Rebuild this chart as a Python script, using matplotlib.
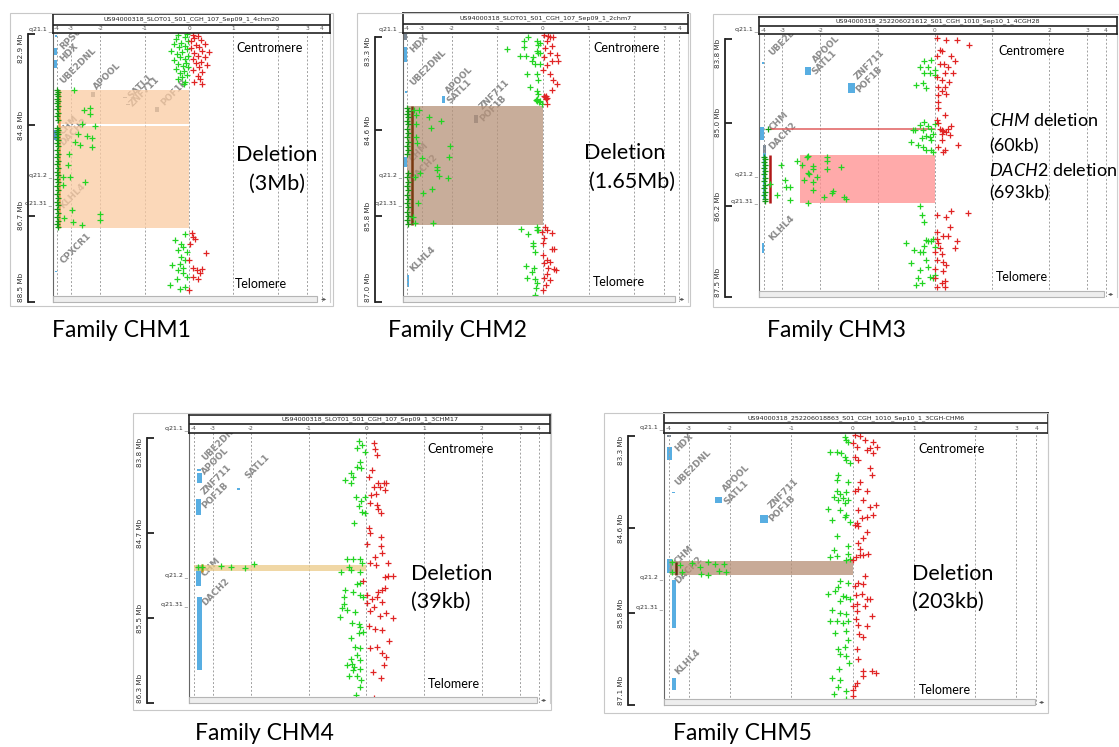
import numpy as np
import matplotlib.pyplot as plt
from matplotlib.patches import Rectangle

plt.rcParams['mathtext.fontset'] = 'custom'
plt.rcParams['mathtext.rm'] = 'Lato'
plt.rcParams['mathtext.it'] = 'Lato:italic'

# ---------------- data: (position Mb, log ratio) ----------------
p1_ticks = [82.9, 84.8, 86.7, 88.5]
p1_green = [(82.9,-0.05),(82.93,-0.25),(82.97,-0.1),(83.0,-0.3),(83.05,-0.02),(83.08,-0.18),(83.1,-0.35),
            (83.15,-0.08),(83.18,-0.22),(83.22,-0.05),(83.25,-0.4),(83.28,-0.15),(83.32,-0.28),(83.35,-0.03),
            (83.38,-0.2),(83.42,-0.1),(83.45,-0.33),(83.5,-0.06),(83.52,-0.24),(83.56,-0.14),(83.6,-0.02),
            (83.63,-0.3),(83.68,-0.12),(83.72,-0.2),(83.76,-0.05),(83.8,-0.16),(83.85,-0.25),(83.9,-0.08),
            (83.95,-0.12),
            (84.08,-2.89),(84.49,-2.56),(84.45,-2.36),(84.57,-2.36),(84.82,-2.17),(84.78,-2.62),(84.99,-2.75),
            (85.03,-2.45),(85.08,-2.3),(85.26,-2.27),(85.15,-2.88),(85.22,-2.69),(85.41,-3.18),(85.64,-3.24),
            (85.88,-3.09),(85.99,-2.53),(85.88,-3.59),(86.06,-3.53),(86.75,-3.47),(86.82,-2.95),(86.89,-2.62),
            (86.66,-2.03),(86.79,-2.0),(86.58,-2.98),
            (87.21,-0.32),(87.08,-0.09),(87.28,-0.17),(87.35,-0.13),(87.42,-0.24),(87.45,-0.05),(87.56,-0.17),
            (87.63,-0.09),(87.73,-0.39),(87.7,-0.2),(87.83,-0.24),(87.9,-0.13),(87.97,-0.05),(88.15,-0.43),
            (88.22,-0.2),(88.18,-0.09),(88.01,-0.28),(87.78,-0.14)]
p1_col = [(84.08,-3.95),(84.12,-3.9),(84.16,-3.97),(84.2,-3.92),(84.25,-3.95),(84.3,-3.9),(84.34,-3.97),
          (84.4,-3.93),(84.47,-3.96),(84.55,-3.9),(84.62,-3.95),(84.7,-3.92),(84.86,-3.96),(84.9,-3.9),
          (84.95,-3.95),(85.0,-3.92),(85.06,-3.97),(85.12,-3.9),(85.18,-3.95),(85.25,-3.92),(85.32,-3.96),
          (85.4,-3.9),(85.47,-3.95),(85.55,-3.93),(85.62,-3.97),(85.7,-3.9),(85.78,-3.95),(85.85,-3.92),
          (85.93,-3.96),(86.0,-3.9),(86.08,-3.95),(86.16,-3.92),(86.24,-3.97),(86.32,-3.9),(86.4,-3.95),
          (86.48,-3.92),(86.56,-3.96),(86.64,-3.9),(86.72,-3.95),(86.8,-3.92),(86.88,-3.96),(86.93,-3.9)]
p1_red = [(82.92,0.08),(82.95,0.2),(82.98,0.12),(83.02,0.28),(83.05,0.05),(83.1,0.35),(83.13,0.15),
          (83.18,0.22),(83.2,0.05),(83.25,0.3),(83.28,0.45),(83.3,0.12),(83.35,0.2),(83.38,0.35),(83.42,0.08),
          (83.48,0.28),(83.5,0.15),(83.55,0.4),(83.6,0.22),(83.65,0.1),(83.7,0.3),(83.78,0.2),(83.85,0.25),
          (83.9,0.12),(83.95,0.3),
          (87.05,0.06),(87.14,0.1),(87.19,0.14),(87.28,0.02),(87.47,0.39),(87.8,0.1),(87.83,0.17),(87.82,0.29),
          (87.97,0.1),(88.01,0.21),(88.24,0.01),(87.63,0.01),(87.9,0.25)]

p2_ticks = [83.3, 84.6, 85.8, 87.0]
p2_green = [(83.3,-0.32),(83.35,-0.41),(83.35,-0.13),(83.41,-0.1),(83.44,-0.41),(83.47,-0.78),(83.57,-0.51),
            (83.57,-0.37),(83.58,-0.21),(83.5,-0.13),(83.52,-0.1),(83.53,-0.06),(83.67,-0.17),(83.64,-0.24),
            (83.67,-0.07),(83.81,-0.35),(83.81,-0.13),(83.9,-0.1),(84.0,-0.29),(84.06,-0.13),(84.09,-0.1),
            (84.16,-0.12),(84.19,-0.06),(84.2,-0.13),(84.23,-0.02),(83.39,-0.07),(84.18,-0.15),(84.21,-0.09),
            (84.32,-3.52),(84.32,-3.15),(84.39,-3.36),(84.42,-2.74),(84.47,-2.36),(84.51,-3.36),(84.57,-2.7),
            (84.69,-3.36),(84.78,-3.3),(84.82,-2.06),(84.98,-2.08),(84.99,-3.0),(85.11,-2.5),(85.16,-2.48),
            (85.2,-3.12),(85.24,-2.44),(85.27,-2.11),(85.25,-3.45),(85.48,-2.97),(85.42,-2.64),(85.62,-3.21),
            (85.81,-3.55),(85.89,-3.45),(85.89,-2.61),
            (85.98,-0.48),(85.95,-0.12),(86.05,-0.32),(86.17,-0.21),(86.22,-0.22),(86.3,-0.17),(85.99,-0.13),
            (86.0,-0.1),(86.5,-0.37),(86.66,-0.35),(86.68,-0.17),(86.74,-0.13),(86.81,-0.15),(86.9,-0.17),
            (86.52,-0.19),(86.58,-0.24)]
p2_col = [(84.29,-3.95),(84.33,-3.9),(84.37,-3.97),(84.42,-3.92),(84.47,-3.95),(84.52,-3.9),(84.58,-3.96),
          (84.64,-3.92),(84.7,-3.95),(84.76,-3.9),(84.82,-3.96),(84.88,-3.92),(84.94,-3.95),(85.2,-3.9),
          (85.26,-3.96),(85.32,-3.92),(85.38,-3.95),(85.44,-3.9),(85.5,-3.96),(85.56,-3.92),(85.62,-3.95),
          (85.68,-3.9),(85.74,-3.96),(85.8,-3.92),(85.86,-3.95),(85.91,-3.9)]
p2_red = [(83.27,0.03),(83.29,0.12),(83.3,0.23),(83.36,0.09),(83.43,0.2),(83.46,0.05),(83.53,0.16),(83.55,0.31),
          (83.58,0.03),(83.64,0.2),(83.64,0.34),(83.69,0.09),(83.76,0.01),(83.81,0.15),(83.9,0.23),(83.95,0.31),
          (84.04,0.2),(84.13,0.03),(84.16,0.07),(84.23,0.09),(83.3,0.16),(84.14,0.05),(84.15,0.08),(84.12,0.06),
          (85.95,0.05),(85.99,0.09),(86.02,-0.02),(86.04,0.2),(86.11,0.03),(86.26,0.2),(86.26,0.25),(86.34,0.01),
          (86.41,0.09),(86.46,0.03),(86.44,0.16),(86.54,0.25),(86.56,0.29),(86.61,0.09),(86.66,0.03),(86.69,0.16),
          (86.76,0.07),(86.83,0.01),(86.52,0.12),(86.18,0.0)]

p3_ticks = [83.8, 85.0, 86.2, 87.5]
p3_green = [(84.12,-0.18),(84.2,-0.26),(84.2,-0.12),(84.1,-0.06),(84.29,-0.18),(84.29,-0.09),(84.46,-0.32),
            (84.43,-0.2),(84.5,-0.15),(84.24,0.0),(84.31,0.0),(85.1,-0.38),(85.03,-0.26),(84.98,-0.18),
            (85.05,-0.12),(85.08,-0.06),(85.1,-0.34),(85.15,-0.03),(85.2,-0.09),(85.19,-0.16),(85.27,-0.41),
            (85.31,-0.29),(85.35,-0.2),(85.39,-0.15),(85.39,-0.07),(85.41,-0.03),(85.24,-0.06),(85.22,-0.23),
            (85.01,0.0),(85.1,-0.2),
            (85.87,-3.67),(86.03,-3.3),(85.6,-3.09),(85.81,-2.94),(85.91,-2.91),(85.91,-2.8),(86.1,-2.8),
            (85.54,-2.62),(85.6,-2.47),(85.81,-2.44),(85.47,-2.33),(85.48,-2.35),(85.61,-2.2),(85.65,-2.18),
            (85.72,-2.32),(85.73,-2.29),(85.77,-2.08),(85.85,-2.2),(85.96,-2.2),(85.49,-1.88),(85.55,-1.88),
            (85.65,-1.88),(85.63,-1.63),(86.05,-1.94),(85.97,-1.78),(86.0,-1.8),(86.05,-1.58),(86.09,-1.55),
            (86.14,-2.32),
            (86.19,-0.25),(86.31,-0.23),(86.41,-0.19),(86.65,-0.03),(86.69,-0.06),(86.68,-0.12),(86.71,-0.5),
            (86.82,-0.36),(86.84,-0.2),(86.85,-0.25),(86.76,-0.18),(86.77,0.0),(86.96,-0.15),(87.05,-0.12),
            (87.22,-0.29),(87.29,-0.23),(87.31,-0.32),(87.2,-0.09),(87.17,0.0),(87.1,-0.26),(86.67,-0.16),
            (87.0,-0.41),(87.22,-0.03)]
p3_col = [(85.48,-3.95),(85.52,-3.9),(85.56,-3.97),(85.6,-3.92),(85.64,-3.95),(85.68,-3.9),(85.73,-3.96),
          (85.78,-3.92),(85.83,-3.95),(85.88,-3.9),(85.93,-3.96),(85.98,-3.92),(86.03,-3.95),(86.08,-3.9),
          (86.12,-3.94),(85.09,-3.75)]
p3_red = [(83.78,0.03),(83.82,0.2),(83.82,0.38),(83.89,0.6),(83.95,0.09),(83.97,0.12),(84.05,0.03),(84.04,0.29),
          (84.12,0.35),(84.15,0.09),(84.15,0.16),(84.2,0.23),(84.29,0.18),(84.29,0.32),(84.34,0.03),(84.39,0.12),
          (84.42,0.25),(84.48,0.05),(84.49,0.18),(84.55,0.12),(84.6,0.06),(84.59,0.2),(84.7,0.05),(84.79,0.06),
          (84.89,0.18),(84.96,0.03),(85.0,0.05),(85.09,0.09),(85.12,0.15),(85.08,0.23),(85.05,0.29),(85.16,0.12),
          (85.17,0.26),(85.31,0.41),(85.24,0.12),(85.34,0.05),(85.41,0.15),(85.38,0.18),(85.1,0.13),(85.13,0.2),
          (86.31,0.03),(86.25,0.28),(86.29,0.58),(86.35,0.2),(86.48,0.26),(86.55,0.03),(86.62,0.15),(86.62,0.23),
          (86.68,0.38),(86.66,0.03),(86.79,0.09),(86.79,0.35),(86.84,0.0),(86.87,0.12),(86.96,0.03),(86.98,0.15),
          (87.03,0.2),(87.08,0.0),(87.12,0.15),(87.22,0.0),(87.25,0.18),(87.29,0.12),(87.35,0.18),(87.34,0.03),
          (86.72,0.06)]

p4_ticks = [83.8, 84.7, 85.5, 86.3]
p4_green = [(83.825,-0.13),(83.866,-0.07),(83.897,-0.16),(83.935,-0.02),(84.023,-0.11),(84.07,-0.16),
            (84.086,-0.09),(84.133,-0.27),(84.165,-0.23),(84.196,-0.36),(84.228,-0.27),(84.353,-0.17),
            (84.391,-0.09),(84.36,-0.02),(84.442,-0.13),(84.495,-0.07),(84.511,-0.02),(84.599,-0.22),
            (84.945,-0.33),(84.945,-0.23),(84.945,-0.1),(85.014,-0.3),(84.982,-0.07),(85.061,-0.44),
            (85.045,-0.26),(85.061,-0.11),(85.177,-0.16),(85.165,-0.1),(85.234,-0.36),(85.25,-0.23),
            (85.297,-0.39),(85.281,-0.11),(85.297,-0.05),(85.366,-0.38),(85.407,-0.42),(85.423,-0.33),
            (85.486,-0.46),(85.438,-0.19),(85.548,-0.25),(85.555,-0.13),(85.58,-0.1),(85.69,-0.27),
            (85.643,-0.13),(85.627,-0.05),(85.769,-0.2),(85.784,-0.1),(85.847,-0.16),(85.888,-0.27),
            (85.895,-0.1),(85.942,-0.33),(85.957,-0.22),(85.982,-0.1),(85.989,-0.23),(86.045,-0.3),
            (86.045,-0.16),(86.083,-0.09),(86.152,-0.11),(86.225,-0.17),(85.932,-0.25),
            (85.02,-3.79),(85.02,-3.55),(85.01,-2.77),(85.02,-2.53),(85.03,-2.15),(84.99,-1.95)]
p4_col = []
p4_red = [(83.844,0.13),(83.907,0.15),(83.96,0.18),(84.102,0.1),(84.171,0.04),(84.221,0.21),(84.228,0.3),
          (84.221,0.35),(84.259,0.13),(84.265,0.24),(84.29,0.32),(84.328,0.17),(84.338,0.08),(84.416,0.07),
          (84.432,0.18),(84.473,0.21),(84.511,0.25),(84.652,0.04),(84.693,0.07),(84.737,0.25),(84.8,0.02),
          (84.819,0.25),(84.888,0.27),(84.92,0.15),(84.976,0.38),(84.982,0.06),(84.998,0.17),(85.114,0.32),
          (85.102,0.38),(85.102,0.47),(85.146,-0.05),(85.234,0.27),(85.218,0.32),(85.25,0.21),(85.281,0.01),
          (85.322,0.1),(85.344,0.27),(85.36,0.02),(85.429,0.06),(85.398,0.13),(85.479,0.23),(85.501,0.47),
          (85.574,0.04),(85.605,0.15),(85.611,0.28),(85.712,0.4),(85.784,0.06),(85.775,0.18),(85.832,0.28),
          (85.869,0.35),(85.942,0.31),(86.004,0.11),(86.067,0.25),(86.256,0.13),(85.297,0.18),(85.454,0.35)]

p5_ticks = [83.3, 84.6, 85.8, 87.1]
p5_green = [(83.31,-0.12),(83.35,-0.1),(83.38,-0.07),(83.52,-0.37),(83.52,-0.26),(83.54,-0.18),(83.59,-0.12),
            (83.63,-0.1),(83.68,-0.04),(83.85,-0.23),(83.91,-0.25),(83.94,-0.07),(84.07,-0.26),(84.11,-0.21),
            (84.09,-0.1),(84.15,-0.31),(84.17,-0.15),(84.2,-0.23),(84.2,-0.07),(84.24,-0.12),(84.33,-0.4),
            (84.34,-0.21),(84.41,-0.1),(84.43,-0.12),(84.48,-0.34),(84.5,-0.04),(84.7,-0.25),(84.84,-0.07),
            (84.9,-0.31),(84.99,-0.37),(84.98,-0.26),(84.95,-0.07),(85.04,-0.1),(85.03,-0.04),(85.34,-0.21),
            (85.36,-0.07),(85.42,-0.23),(85.48,-0.29),(85.52,-0.4),(85.55,-0.15),(85.56,-0.1),(85.59,-0.04),
            (85.62,-0.21),(85.74,-0.33),(85.78,-0.21),(85.79,-0.1),(85.9,-0.37),(85.89,-0.26),(85.92,-0.15),
            (85.9,-0.07),(86.06,-0.29),(86.04,-0.1),(86.16,-0.07),(86.28,-0.23),(86.26,-0.12),(86.35,-0.2),
            (86.39,-0.1),(86.49,-0.05),(86.57,-0.22),(86.7,-0.33),(86.72,-0.2),(86.82,-0.23),(86.87,-0.1),
            (86.92,-0.31),(86.99,-0.11),
            (85.06,-3.85),(85.11,-3.45),(85.08,-2.94),(85.13,-2.73),(85.06,-2.53),(85.09,-2.36),(85.09,-2.15),
            (85.19,-2.27),(85.2,-2.08),(85.2,-3.36),(85.2,-3.85),(85.24,-2.7),(85.25,-2.53)]
p5_col = []
p5_red = [(83.29,0.04),(83.3,0.12),(83.35,0.2),(83.38,0.34),(83.4,0.01),(83.45,0.07),(83.47,0.28),(83.45,0.39),
          (83.5,0.23),(83.59,0.04),(83.63,0.09),(83.54,0.34),(83.75,0.28),(83.85,0.31),(83.94,0.12),(84.05,0.09),
          (84.07,0.04),(84.07,0.23),(84.2,0.17),(84.27,0.38),(84.29,0.28),(84.34,0.09),(84.41,0.34),(84.45,0.15),
          (84.44,0.23),(84.52,0.07),(84.55,0.04),(84.56,0.09),(84.64,0.23),(84.73,0.17),(84.8,0.09),(84.89,0.12),
          (84.95,0.25),(84.97,0.17),(84.97,0.12),(84.99,0.05),(85.04,0.01),(85.27,0.2),(85.36,0.09),(85.38,0.17),
          (85.41,0.04),(85.51,0.15),(85.53,0.05),(85.58,0.23),(85.58,0.28),(85.66,0.07),(85.69,0.01),(85.69,0.2),
          (85.75,0.08),(85.82,0.31),(85.86,0.05),(85.95,0.09),(85.97,0.23),(86.07,0.11),(86.12,0.17),(86.29,0.07),
          (86.42,0.09),(86.59,0.17),(86.6,0.31),(86.62,0.38),(86.67,0.17),(86.77,0.07),(86.81,0.04),(86.86,0.0),
          (87.02,0.01),(86.95,0.01)]

# deleted segments: (ratio from, ratio to, start Mb, end Mb)
p1_del = [(-3.8, 0, 84.07, 84.79), (-3.8, 0, 84.82, 86.95)]
p2_del = [(-4.0, 0, 84.27, 85.92)]
p3_del = [(-3.65, 0, 85.075, 85.1), (-2.53, 0, 85.46, 86.14)]
p4_del = [(-3.97, 0, 85.0, 85.05)]
p5_del = [(-3.94, 0, 85.053, 85.249)]

titles = ['US94000318_SLOT01_S01_CGH_107_Sep09_1_4chm20',
          'US94000318_SLOT01_S01_CGH_107_Sep09_1_2chm7',
          'US94000318_252206021612_S01_CGH_1010_Sep10_1_4CGH28',
          'US94000318_SLOT01_S01_CGH_107_Sep09_1_3CHM17',
          'US94000318_252206018863_S01_CGH_1010_Sep10_1_3CGH-CHM6']
families = ['Family CHM1', 'Family CHM2', 'Family CHM3', 'Family CHM4', 'Family CHM5']
bands = ['q21.1', 'q21.2', 'q21.31']

# ---------------- style / layout ----------------
W, H = 1119, 747
GREEN = '#22d422'
DKGREEN = '#159a15'
RED = '#e02424'
BLUE = '#58aee2'
GREY = '#7c8996'

fig = plt.figure(figsize=(W / 100, H / 100), dpi=100)


def frect(x0, y0, x1, y1):
    return [x0 / W, 1 - y1 / H, (x1 - x0) / W, (y1 - y0) / H]


def ftext(px, py, s, **kw):
    return fig.text(px / W, 1 - py / H, s, **kw)


# log ratio axis of the viewer: linear within +-2, squeezed beyond
XK = [-6, -4, -3, -2, 2, 3, 4, 6]
XM = [-3.65, -2.99, -2.66, -2, 2, 2.66, 2.99, 3.65]


def fwd(x):
    return np.interp(x, XK, XM)


def inv(m):
    return np.interp(m, XM, XK)


XLIM = (-4.24, 4.58)

layouts = [
    dict(frame=(10, 13, 333, 306), header=(53, 14, 330, 33, 25), plot=(53, 33, 330, 302),
         ruler_x=28, ruler_py=(34, 302), band_y=(29, 175, 203)),
    dict(frame=(357, 13, 690, 306), header=(403, 13, 688, 33, 24), plot=(403, 33, 688, 302),
         ruler_x=375, ruler_py=(37, 302), band_y=(29, 175, 203)),
    dict(frame=(713, 14, 1119, 307), header=(759, 17, 1117, 34, 26), plot=(759, 34, 1117, 297),
         ruler_x=725, ruler_py=(39, 298), band_y=(29, 174, 201)),
    dict(frame=(133, 413, 551, 710), header=(189, 415, 550, 433, 424), plot=(189, 433, 550, 703),
         ruler_x=147, ruler_py=(438, 703), band_y=(428, 575, 604)),
    dict(frame=(604, 413, 1048, 713), header=(664, 413, 1048, 433, 423), plot=(664, 433, 1048, 705),
         ruler_x=628, ruler_py=(436, 707), band_y=(427, 577, 607)),
]

gene_labels = [
    [('RPS6', -3.48, 83.26), ('HDX', -3.48, 83.51), ('UBE2DNL', -3.48, 83.97), ('APOOL', -2.07, 84.09),
     ('SATL1', -1.27, 84.28), ('ZNF711', -1.25, 84.45), ('POF1B', -0.52, 84.43), ('CHM', -3.48, 85.05),
     ('DACH2', -3.48, 85.28), ('KLHL4', -3.45, 86.58), ('CPXCR1', -3.45, 87.73)],
    [('HDX', -3.5, 83.54), ('UBE2DNL', -3.5, 84.0), ('APOOL', -2.06, 84.11), ('SATL1', -2.0, 84.26),
     ('ZNF711', -1.29, 84.34), ('POF1B', -1.27, 84.5), ('CHM', -3.5, 85.06), ('DACH2', -3.5, 85.34),
     ('KLHL4', -3.5, 86.6)],
    [('UBE2DNL', -3.45, 84.07), ('APOOL', -2.08, 84.17), ('SATL1', -2.1, 84.34), ('ZNF711', -1.32, 84.41),
     ('POF1B', -1.3, 84.59), ('CHM', -3.45, 85.14), ('DACH2', -3.47, 85.41), ('KLHL4', -3.45, 86.7)],
    [('UBE2DNL', -3.33, 84.03), ('APOOL', -3.33, 84.16), ('ZNF711', -3.33, 84.35), ('POF1B', -3.33, 84.48),
     ('SATL1', -2.02, 84.2), ('CHM', -3.33, 85.12), ('DACH2', -3.33, 85.4)],
    [('HDX', -3.45, 83.54), ('UBE2DNL', -3.45, 84.02), ('APOOL', -2.06, 84.11), ('SATL1', -2.02, 84.29),
     ('ZNF711', -1.29, 84.34), ('POF1B', -1.28, 84.52), ('CHM', -3.5, 85.13), ('DACH2', -3.45, 85.39),
     ('KLHL4', -3.45, 86.67)],
]

gene_boxes = [
    [(-4.1, -4.0, 82.93, 82.96, BLUE), (-4.2, -4.0, 83.2, 83.34, BLUE), (-4.2, -4.0, 83.44, 83.62, BLUE),
     (-4.2, -4.0, 84.9, 85.12, '#5a9ed0'), (-4.1, -4.0, 87.85, 87.88, BLUE), (-2.32, -2.2, 84.12, 84.22, GREY),
     (-1.5, -1.4, 84.22, 84.24, GREY), (-1.43, -1.33, 84.37, 84.39, GREY), (-0.76, -0.68, 84.42, 84.53, GREY)],
    [(-4.15, -4.0, 83.26, 83.34, GREY), (-4.15, -4.0, 83.44, 83.65, BLUE), (-4.1, -3.95, 84.06, 84.08, BLUE),
     (-2.33, -2.23, 84.12, 84.22, BLUE), (-1.52, -1.42, 84.39, 84.5, GREY), (-4.15, -4.0, 84.98, 85.12, BLUE),
     (-4.0, -3.85, 86.62, 86.79, BLUE)],
    [(-4.1, -3.95, 84.13, 84.15, BLUE), (-2.4, -2.25, 84.2, 84.31, BLUE), (-1.51, -1.39, 84.43, 84.57, BLUE),
     (-4.2, -4.0, 85.06, 85.24, BLUE), (-4.05, -3.85, 85.31, 85.43, GREY), (-4.05, -3.85, 85.43, 86.1, BLUE),
     (-4.1, -3.95, 86.71, 86.86, BLUE)],
    [(-3.8, -3.6, 84.095, 84.11, BLUE), (-3.8, -3.55, 84.13, 84.22, BLUE), (-3.85, -3.6, 84.38, 84.53, BLUE),
     (-2.37, -2.27, 84.27, 84.29, BLUE), (-3.85, -3.6, 85.0, 85.2, BLUE), (-3.8, -3.55, 85.3, 85.99, BLUE)],
    [(-4.1, -3.9, 83.28, 83.31, GREY), (-4.1, -3.85, 83.45, 83.64, BLUE), (-3.85, -3.7, 84.08, 84.1, BLUE),
     (-2.36, -2.2, 84.15, 84.24, BLUE), (-1.5, -1.37, 84.41, 84.52, BLUE), (-4.1, -3.85, 85.03, 85.22, BLUE),
     (-3.85, -3.65, 85.32, 85.99, BLUE), (-3.85, -3.65, 86.69, 86.86, BLUE)],
]

del_colors = [['#facba2', '#facba2'], ['#b69279'], ['#e05a5a', '#ff8e8e'], ['#ebca87'], ['#b68e74']]
calls = [[(-3.8, 84.07, 86.95, '#f3a05a')], [(-3.67, 84.27, 85.92, '#7a3a10')],
         [(-3.66, 85.46, 86.14, '#b01818')], [(-3.55, 84.99, 85.06, '#c89020')],
         [(-3.64, 85.06, 85.25, '#6b3010')]]

panels = [(p1_green, p1_col, p1_red, p1_del, p1_ticks), (p2_green, p2_col, p2_red, p2_del, p2_ticks),
          (p3_green, p3_col, p3_red, p3_del, p3_ticks), (p4_green, p4_col, p4_red, p4_del, p4_ticks),
          (p5_green, p5_col, p5_red, p5_del, p5_ticks)]

for i, (green, col, red, dels, ticks) in enumerate(panels):
    L = layouts[i]
    fx0, fy0, fx1, fy1 = L['frame']
    fig.add_artist(Rectangle((fx0 / W, 1 - fy1 / H), (fx1 - fx0) / W, (fy1 - fy0) / H,
                             transform=fig.transFigure, fill=False, ec='#c8c8c8', lw=0.8))

    x0, y0, x1, y1 = L['plot']
    ax = fig.add_axes(frect(x0, y0, x1, y1))
    ax.set_xscale('function', functions=(fwd, inv))
    ax.set_xlim(*XLIM)
    p0, p1 = L['ruler_py']
    k = (ticks[-1] - ticks[0]) / (p1 - p0)
    ylo = ticks[0] + (y1 - p0) * k
    yhi = ticks[0] + (y0 - p0) * k
    ax.set_ylim(ylo, yhi)
    ax.set_xticks(range(-4, 5))
    ax.set_yticks([])
    ax.tick_params(bottom=False, labelbottom=False)
    ax.grid(axis='x', color='#a0a0a0', lw=0.7, ls=(0, (2, 2)))
    ax.spines['top'].set_visible(False)
    ax.spines['bottom'].set_visible(False)
    ax.spines['left'].set_color('#666666')
    ax.spines['right'].set_color('#d0d0d0')

    for name, gx, gy in gene_labels[i]:
        ax.text(gx, gy, name, rotation=45, rotation_mode='anchor', ha='left', va='bottom',
                fontsize=6.4, fontweight='bold', color='#8a8a8a', zorder=1, clip_on=True)
    for bx0, bx1, by0, by1, c in gene_boxes[i]:
        ax.fill_betweenx([by0, by1], bx0, bx1, color=c, lw=0, zorder=1.5)
    for (dx0, dx1, dy0, dy1), c in zip(dels, del_colors[i]):
        ax.fill_betweenx([dy0, dy1], dx0, dx1, color=c, lw=0, alpha=0.75, zorder=2)
    for cx, cy0, cy1, c in calls[i]:
        ax.vlines(cx, cy0, cy1, color=c, lw=1.8, zorder=2.5)

    g = np.array(green)
    ax.scatter(g[:, 1], g[:, 0], marker='+', s=21, lw=0.9, c=GREEN, zorder=4)
    if col:
        cc = np.array(col)
        ax.scatter(cc[:, 1], cc[:, 0], marker='+', s=21, lw=0.9, c=DKGREEN, zorder=4)
    r = np.array(red)
    ax.scatter(r[:, 1], r[:, 0], marker='+', s=21, lw=0.9, c=RED, zorder=4)

    # position ruler
    rx = L['ruler_x']
    axr = fig.add_axes(frect(rx, y0, rx + 2, y1))
    axr.set_ylim(ylo, yhi)
    axr.patch.set_visible(False)
    for s in ['top', 'bottom', 'right']:
        axr.spines[s].set_visible(False)
    axr.spines['left'].set_bounds(ticks[0], ticks[-1])
    axr.spines['left'].set_linewidth(1.3)
    axr.spines['left'].set_color('#222222')
    axr.set_xticks([])
    axr.set_yticks(ticks)
    axr.set_yticklabels([f'{t:.1f} Mb' for t in ticks], rotation=90, fontsize=5.2, color='#333333')
    axr.tick_params(axis='y', direction='in', length=5, width=1.3, pad=3, color='#222222')
    tl = axr.get_yticklabels()
    for j, t in enumerate(tl):
        t.set_va('top' if j == 0 else ('bottom' if j == len(tl) - 1 else 'center'))

    # header strip with file name and ratio scale
    hx0, hy0, hx1, hy1, hs = L['header']
    axh = fig.add_axes(frect(hx0, hy0, hx1, hy1))
    axh.set_xscale('function', functions=(fwd, inv))
    axh.set_xlim(*XLIM)
    axh.set_ylim(0, 1)
    axh.set_xticks([])
    axh.set_yticks([])
    sf = (hy1 - hs) / (hy1 - hy0)
    axh.axhline(sf, color='#222222', lw=1.2)
    for sp in axh.spines.values():
        sp.set_linewidth(1.2)
        sp.set_color('#222222')
    for t in range(-4, 5):
        axh.text(t, sf / 2, str(t), ha='center', va='center', fontsize=4.2, color='#555555')
    axh.text(0.5, (1 + sf) / 2, titles[i], transform=axh.transAxes, ha='center', va='center',
             fontsize=4.6, color='#222222', clip_on=True)

    # cytobands
    for b, by in zip(bands, L['band_y']):
        ftext(x0 - 1, by, b + ' _', ha='right', va='center', fontsize=4.5, color='#333333')

    # scroll bar
    fig.add_artist(Rectangle((x0 / W, 1 - y1 / H), (x1 - 13 - x0) / W, 6 / H, transform=fig.transFigure,
                             fc='#eeeeee', ec='#b5b5b5', lw=0.8))
    ftext(x1 - 6, y1 - 3, '◂▸', ha='center', va='center', fontsize=4.5, color='#555555')

BIG = ['Lato', 'DejaVu Sans']

# centromere / telomere markers
ends = [((270, 48), (261, 284)), ((627, 48), (619, 282)), ((1032, 51), (1022, 277)),
        ((461, 449), (454, 684)), ((952, 449), (945, 690))]
for (c, t) in ends:
    ftext(c[0], c[1], 'Centromere', ha='center', va='center', fontsize=9, family=BIG)
    ftext(t[0], t[1], 'Telomere', ha='center', va='center', fontsize=9, family=BIG)

# deletion annotations
ftext(277, 155, 'Deletion', ha='center', va='center', fontsize=15.5, family=BIG)
ftext(277, 184, '(3Mb)', ha='center', va='center', fontsize=15.5, family=BIG)
ftext(625, 153, 'Deletion', ha='center', va='center', fontsize=15.5, family=BIG)
ftext(632, 182, '(1.65Mb)', ha='center', va='center', fontsize=15.5, family=BIG)
ftext(989, 120, r'$\mathit{CHM}$ deletion', ha='left', va='center', fontsize=13, family=BIG)
ftext(989, 146, '(60kb)', ha='left', va='center', fontsize=13, family=BIG)
ftext(989, 170, r'$\mathit{DACH2}$ deletion', ha='left', va='center', fontsize=13, family=BIG)
ftext(989, 193, '(693kb)', ha='left', va='center', fontsize=13, family=BIG)
ftext(411, 574, 'Deletion', ha='left', va='center', fontsize=15.5, family=BIG)
ftext(411, 602, '(39kb)', ha='left', va='center', fontsize=15.5, family=BIG)
ftext(912, 574, 'Deletion', ha='left', va='center', fontsize=15.5, family=BIG)
ftext(912, 602, '(203kb)', ha='left', va='center', fontsize=15.5, family=BIG)

# family captions
fam_pos = [(52, 331), (388, 331), (767, 331), (195, 734), (673, 734)]
for name, (fx, fy) in zip(families, fam_pos):
    ftext(fx, fy, name, ha='left', va='center', fontsize=16.5, family=BIG)

fig.savefig('out.png', dpi=100)
